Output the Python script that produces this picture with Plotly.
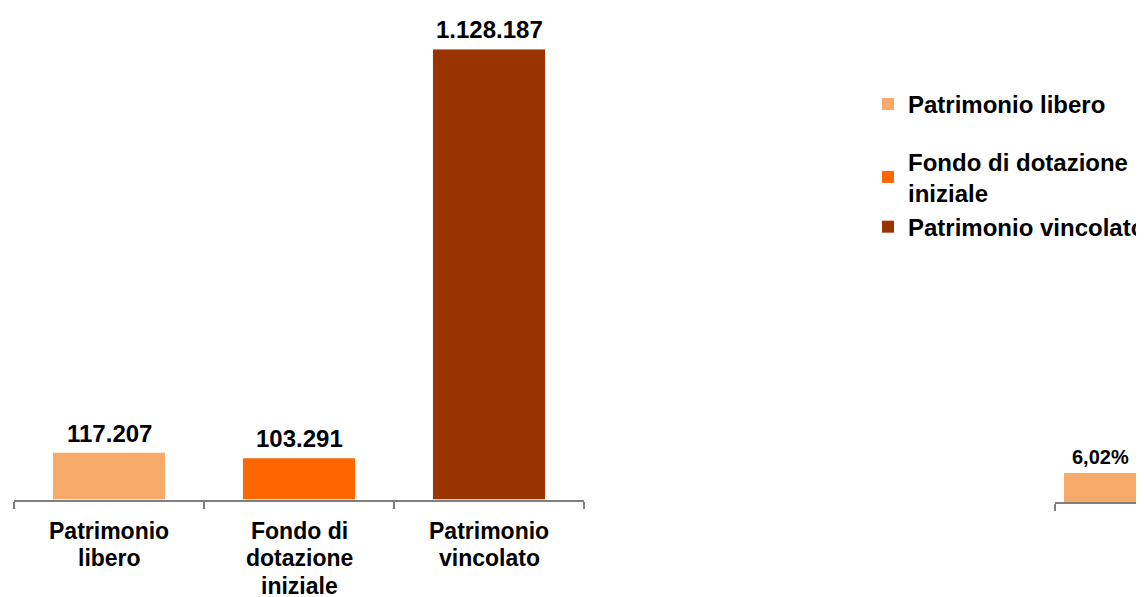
import plotly.graph_objects as go

# ---- data ----
categories = ["Patrimonio libero", "Fondo di dotazione iniziale", "Patrimonio vincolato"]
tick_lines = [["Patrimonio", "libero"], ["Fondo di", "dotazione", "iniziale"], ["Patrimonio", "vincolato"]]
legend_labels = ["Patrimonio libero", "Fondo di dotazione<br>iniziale", "Patrimonio vincolato"]
values = [117207, 103291, 1128187]
colors = ["#F7AA69", "#FF6600", "#993300"]

pct_categories = ["Patrimonio libero"]
pct_values = [6.02]

W, H = 1144, 597
OFF = 8  # page body margin: figure starts 8 px right/down of the window corner
FONT = "Liberation Sans, Arial, Helvetica, sans-serif"
AXIS_LINE = "rgba(0,0,0,0.5)"
LABEL_LINE_GAP = 27.7


def fx(screen_px):
    return (screen_px - OFF) / W


def fy(screen_px):
    return 1 - (screen_px - OFF) / H


fig = go.Figure()

groups = ["a", "b", "b"]
for cat, ll, v, c, g in zip(categories, legend_labels, values, colors, groups):
    fig.add_trace(go.Bar(
        x=[cat], y=[v], name=ll, marker=dict(color=c, line=dict(width=0)),
        width=0.59, legendgroup=g, xaxis="x", yaxis="y",
        hoverinfo="x+y",
    ))

# second (cut-off) chart on the right edge
fig.add_trace(go.Bar(
    x=pct_categories, y=pct_values, marker=dict(color=colors[0], line=dict(width=0)),
    width=0.8, showlegend=False, xaxis="x2", yaxis="y2",
))

annotations = []
# value labels above bars
for cat, v in zip(categories, values):
    annotations.append(dict(
        x=cat, y=v, xref="x", yref="y", text=f"{v:,}".replace(",", "."),
        showarrow=False, yanchor="bottom", yshift=4,
        font=dict(size=24, family=FONT, color="#000000", weight="bold"),
    ))
for cat, v in zip(pct_categories, pct_values):
    annotations.append(dict(
        x=cat, y=v, xref="x2", yref="y2", text=f"{v:.2f}".replace(".", ",") + "%",
        showarrow=False, yanchor="bottom", yshift=3,
        font=dict(size=20, family=FONT, color="#000000", weight="bold"),
    ))
# category labels under the axis (one annotation per line for tight line spacing)
for cat, lines in zip(categories, tick_lines):
    for i, line in enumerate(lines):
        annotations.append(dict(
            x=cat, y=0, xref="x", yref="y", text=line,
            showarrow=False, yanchor="top", yshift=-(16 + i * LABEL_LINE_GAP),
            font=dict(size=23, family=FONT, color="#000000", weight="bold"),
        ))

fig.update_layout(
    width=W, height=H,
    margin=dict(l=0, r=0, t=0, b=0),
    paper_bgcolor="white", plot_bgcolor="white",
    font=dict(family=FONT, size=23, color="#000000", weight="bold"),
    barmode="overlay",
    annotations=annotations,
    xaxis=dict(
        domain=[fx(14), fx(584)],
        type="category",
        categoryorder="array", categoryarray=categories,
        tickson="boundaries", ticks="outside", ticklen=7, tickwidth=1.5, tickcolor=AXIS_LINE,
        showticklabels=False,
        showline=True, linecolor=AXIS_LINE, linewidth=2,
        showgrid=False, zeroline=False,
        fixedrange=True,
    ),
    yaxis=dict(
        domain=[fy(499.5), fy(49.3)],
        range=[0, 1128187],
        visible=False, showgrid=False, zeroline=False, fixedrange=True,
    ),
    xaxis2=dict(
        domain=[fx(1055), fx(1144)],
        type="category",
        categoryorder="array", categoryarray=pct_categories,
        range=[-0.5, -0.5 + 89 / 90],
        tickson="boundaries", ticks="outside", ticklen=7, tickwidth=1.5, tickcolor=AXIS_LINE,
        showline=True, linecolor=AXIS_LINE, linewidth=2,
        showticklabels=False,
        showgrid=False, zeroline=False, anchor="y2", fixedrange=True,
    ),
    yaxis2=dict(
        domain=[fy(502), fy(49.3)],
        range=[0, 94],
        visible=False, showgrid=False, zeroline=False, anchor="x2", fixedrange=True,
    ),
    legend=dict(
        x=fx(868), y=fy(82), xanchor="left", yanchor="top",
        font=dict(size=24, family=FONT, color="#000000", weight="bold"),
        traceorder="grouped", tracegroupgap=23, groupclick="toggleitem",
        bgcolor="rgba(0,0,0,0)",
    ),
    showlegend=True,
)

fig.write_html("out.html")
